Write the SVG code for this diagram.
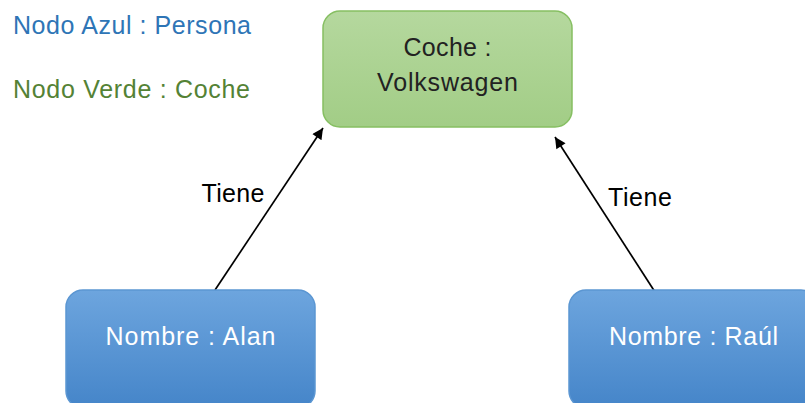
<svg xmlns="http://www.w3.org/2000/svg" width="805" height="403" viewBox="0 0 805 403">
<defs>
<linearGradient id="gBlue" x1="0" y1="0" x2="0" y2="1">
<stop offset="0" stop-color="#6da5de"/>
<stop offset="1" stop-color="#4585c9"/>
</linearGradient>
<linearGradient id="gGreen" x1="0" y1="0" x2="0" y2="1">
<stop offset="0" stop-color="#b5d89e"/>
<stop offset="1" stop-color="#a2cd86"/>
</linearGradient>
<marker id="arr" viewBox="0 0 10 10" refX="10" refY="5" markerWidth="13" markerHeight="11" markerUnits="userSpaceOnUse" orient="auto">
<path d="M0,0 L10,5 L0,10 z" fill="#000"/>
</marker>
<style>
text{font-family:"Liberation Sans",Arial,sans-serif;font-size:25px}
.blue{fill:url(#gBlue);stroke:#5b96d2;stroke-width:1.5}
.green{fill:url(#gGreen);stroke:#86bf62;stroke-width:1.5}
.edge{stroke:#000;stroke-width:1.7;fill:none;marker-end:url(#arr)}
.lbl{fill:#000;text-anchor:middle}
.wt{fill:#fff;text-anchor:middle}
.dk{fill:#222;text-anchor:middle}
</style>
</defs>
<rect width="805" height="403" fill="#fff"/>
<text x="13" y="34" fill="#2e75b6" textLength="238">Nodo Azul : Persona</text>
<text x="13" y="98" fill="#548235" textLength="237">Nodo Verde : Coche</text>
<g id="connectors">
<line class="edge" x1="215" y1="290" x2="323" y2="128"/>
<line class="edge" x1="655" y1="292" x2="555" y2="137"/>
<text class="lbl" x="233" y="202" textLength="63">Tiene</text>
<text class="lbl" x="640" y="206" textLength="64">Tiene</text>
</g>
<g id="coche">
<rect class="green" x="323" y="11" width="249" height="116" rx="17"/>
<text class="dk" x="447.5" y="56" textLength="88">Coche :</text>
<text class="dk" x="447.5" y="91" textLength="141">Volkswagen</text>
</g>
<g id="alan">
<rect class="blue" x="66" y="290" width="249" height="118" rx="17"/>
<text class="wt" x="190.5" y="345" textLength="170">Nombre : Alan</text>
</g>
<g id="raul">
<rect class="blue" x="569" y="290" width="249" height="118" rx="17"/>
<text class="wt" x="693.5" y="345" textLength="169">Nombre : Raúl</text>
</g>
</svg>
